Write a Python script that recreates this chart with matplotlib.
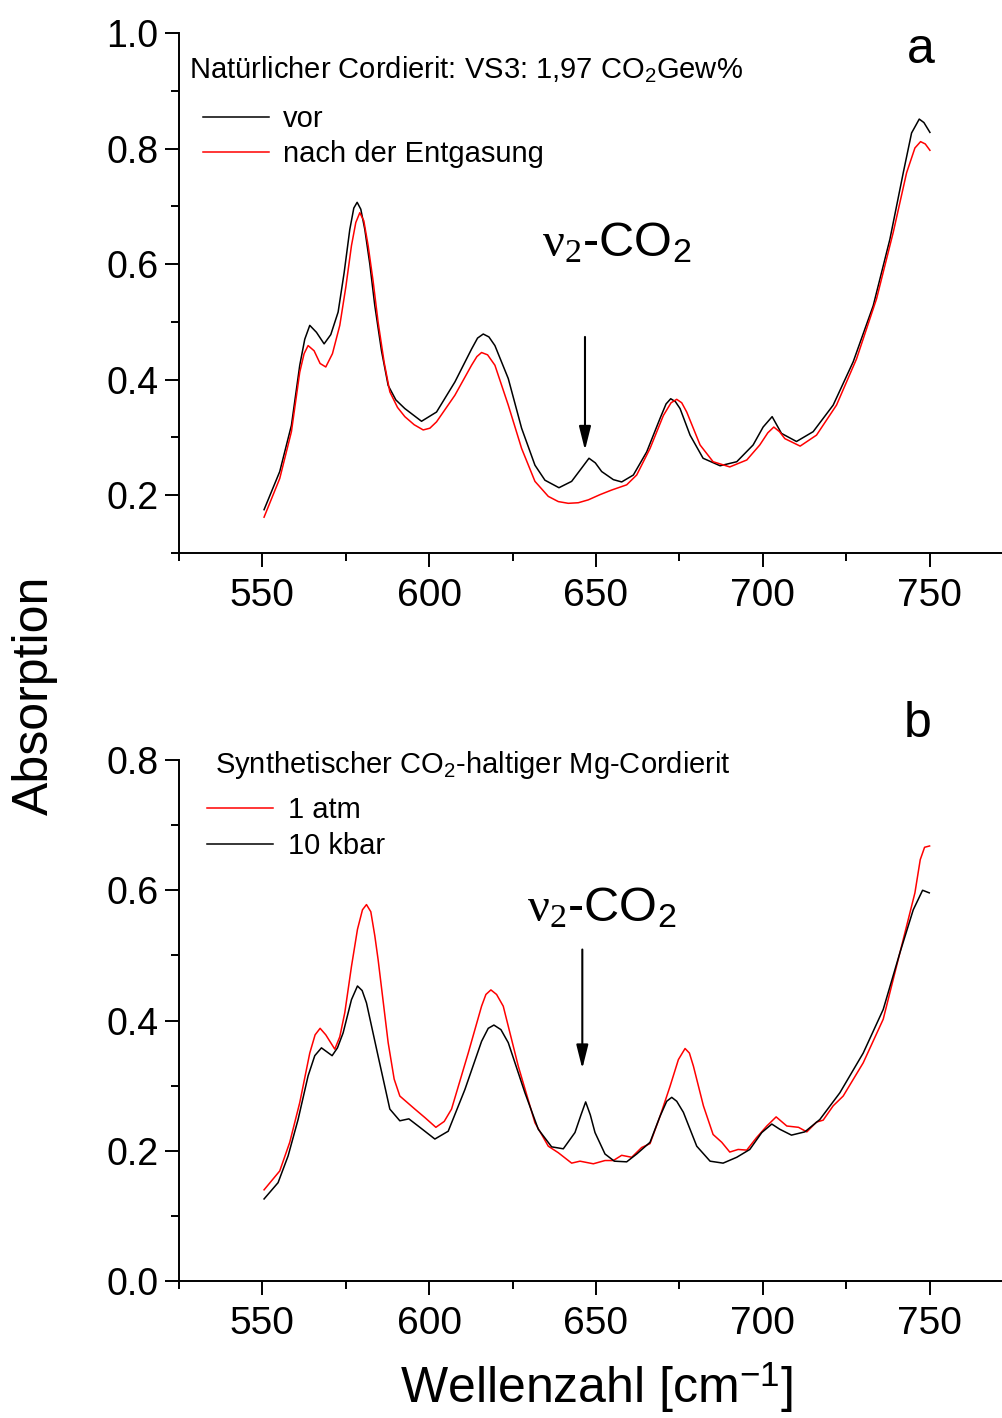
import numpy as np
import matplotlib
matplotlib.use('Agg')
import matplotlib.pyplot as plt
from matplotlib.ticker import MultipleLocator

plt.rcParams['font.family'] = ['Liberation Sans', 'DejaVu Sans']
plt.rcParams['mathtext.fontset'] = 'custom'
plt.rcParams['mathtext.rm'] = 'Liberation Serif'
plt.rcParams['mathtext.it'] = 'Liberation Serif:italic'
plt.rcParams['mathtext.sf'] = 'Liberation Sans'

# --- panel a: natural cordierite VS3 ---
wn_a_vor = [550.5, 555.2, 558.7, 561.2, 562.7, 564.2, 566.2, 568.5, 570.5, 572.7,
            574.5, 576.2, 577.4, 578.4, 579.5, 580.7, 582.2, 583.7, 585.7, 587.7,
            590.0, 592.7, 597.7, 602.2, 607.7, 612.7, 614.5, 616.2, 617.9, 619.7,
            623.7, 627.7, 631.7, 634.7, 638.9, 642.7, 645.7, 647.9, 649.8, 651.7,
            655.2, 657.7, 661.2, 665.2, 669.2, 671.0, 672.4, 673.8, 675.2, 678.2,
            682.1, 687.2, 692.2, 697.1, 700.1, 702.8, 705.6, 710.1, 715.1, 721.1,
            727.1, 733.1, 738.1, 742.1, 744.6, 746.9, 748.3, 750.1]
abs_a_vor = [0.175, 0.241, 0.321, 0.425, 0.470, 0.494, 0.482, 0.462, 0.478, 0.517,
             0.585, 0.660, 0.697, 0.707, 0.695, 0.660, 0.600, 0.528, 0.450, 0.390,
             0.365, 0.350, 0.328, 0.344, 0.396, 0.453, 0.472, 0.479, 0.474, 0.459,
             0.402, 0.316, 0.252, 0.226, 0.213, 0.224, 0.247, 0.264, 0.256, 0.241,
             0.227, 0.223, 0.235, 0.275, 0.333, 0.358, 0.367, 0.362, 0.350, 0.304,
             0.264, 0.251, 0.258, 0.287, 0.318, 0.336, 0.307, 0.293, 0.310, 0.356,
             0.431, 0.528, 0.643, 0.758, 0.827, 0.851, 0.845, 0.828]

wn_a_nach = [550.5, 555.2, 558.7, 561.2, 562.5, 563.7, 565.5, 567.3, 569.0, 571.0,
             573.2, 575.0, 576.7, 578.0, 579.2, 580.4, 581.7, 583.2, 584.7, 586.5,
             588.2, 590.5, 592.7, 595.5, 598.2, 600.2, 602.2, 607.7, 612.7, 614.3,
             615.7, 617.5, 619.7, 623.7, 627.7, 631.7, 635.7, 638.7, 641.7, 644.7,
             647.7, 651.2, 654.7, 659.2, 662.2, 666.2, 670.2, 672.5, 674.2, 675.7,
             677.2, 681.2, 685.1, 690.1, 695.2, 699.1, 701.5, 703.3, 705.0, 706.6,
             711.2, 716.1, 722.1, 728.1, 734.1, 739.1, 743.1, 745.6, 747.3, 748.7,
             750.1]
abs_a_nach = [0.162, 0.229, 0.310, 0.413, 0.445, 0.459, 0.450, 0.428, 0.422, 0.445,
              0.494, 0.560, 0.632, 0.672, 0.689, 0.675, 0.632, 0.570, 0.499, 0.430,
              0.379, 0.352, 0.336, 0.322, 0.313, 0.316, 0.327, 0.373, 0.425, 0.440,
              0.447, 0.443, 0.425, 0.356, 0.281, 0.224, 0.198, 0.189, 0.186, 0.187,
              0.192, 0.201, 0.209, 0.218, 0.235, 0.281, 0.338, 0.360, 0.366, 0.360,
              0.344, 0.287, 0.258, 0.249, 0.261, 0.287, 0.308, 0.318, 0.310, 0.298,
              0.285, 0.304, 0.356, 0.436, 0.540, 0.655, 0.758, 0.801, 0.812, 0.808,
              0.797]

# --- panel b: synthetic Mg-cordierite ---
wn_b_atm = [550.5, 555.2, 558.2, 561.2, 564.2, 565.8, 567.3, 569.0, 571.7, 573.2,
            574.7, 576.7, 578.5, 580.0, 581.2, 582.5, 583.7, 584.7, 587.7, 589.5,
            591.2, 595.7, 598.7, 602.0, 604.5, 606.7, 611.7, 615.7, 617.0, 618.5,
            620.2, 622.2, 626.7, 631.7, 635.7, 638.7, 642.7, 645.2, 649.2, 652.7,
            655.2, 657.7, 660.7, 663.7, 666.2, 669.2, 672.2, 674.7, 676.7, 678.0,
            679.2, 682.2, 685.1, 687.7, 690.1, 692.6, 695.2, 698.1, 701.2, 704.0,
            707.2, 710.7, 713.2, 716.1, 718.1, 721.1, 724.1, 730.1, 736.1, 741.1,
            745.6, 747.2, 748.5, 750.0]
abs_b_atm = [0.140, 0.169, 0.213, 0.274, 0.350, 0.378, 0.388, 0.378, 0.356, 0.375,
             0.412, 0.483, 0.540, 0.570, 0.578, 0.567, 0.530, 0.493, 0.366, 0.310,
             0.284, 0.264, 0.251, 0.236, 0.245, 0.264, 0.350, 0.422, 0.440, 0.447,
             0.440, 0.422, 0.330, 0.243, 0.207, 0.197, 0.181, 0.184, 0.180, 0.185,
             0.185, 0.193, 0.190, 0.205, 0.211, 0.253, 0.299, 0.340, 0.357, 0.350,
             0.330, 0.269, 0.225, 0.213, 0.198, 0.202, 0.201, 0.220, 0.238, 0.252,
             0.238, 0.236, 0.229, 0.244, 0.247, 0.269, 0.284, 0.335, 0.402, 0.504,
             0.596, 0.647, 0.666, 0.668]

wn_b_kbar = [550.5, 554.7, 557.7, 560.7, 563.7, 565.7, 567.7, 569.3, 570.9, 572.5,
             574.2, 576.7, 578.5, 579.9, 581.2, 584.7, 588.2, 591.2, 593.9, 597.2,
             601.7, 605.7, 610.7, 615.7, 617.7, 619.4, 621.5, 623.7, 628.7, 632.7,
             636.7, 640.2, 643.7, 645.5, 646.9, 648.3, 649.7, 652.7, 655.5, 659.2,
             662.2, 666.2, 669.2, 671.2, 672.7, 674.2, 676.2, 680.2, 684.2, 688.1,
             692.2, 696.1, 699.7, 702.7, 705.1, 708.6, 712.6, 717.1, 723.1, 730.1,
             736.1, 741.1, 745.1, 747.9, 749.9]
abs_b_kbar = [0.126, 0.151, 0.192, 0.248, 0.315, 0.346, 0.358, 0.352, 0.346, 0.358,
              0.381, 0.432, 0.453, 0.446, 0.427, 0.345, 0.264, 0.246, 0.249, 0.236,
              0.218, 0.230, 0.294, 0.368, 0.388, 0.393, 0.386, 0.366, 0.289, 0.233,
              0.206, 0.203, 0.228, 0.255, 0.275, 0.255, 0.228, 0.195, 0.184, 0.183,
              0.195, 0.213, 0.253, 0.276, 0.282, 0.276, 0.259, 0.207, 0.184, 0.181,
              0.190, 0.202, 0.228, 0.241, 0.233, 0.224, 0.229, 0.248, 0.289, 0.350,
              0.417, 0.504, 0.570, 0.600, 0.596]

label_a = r'Natürlicher Cordierit: VS3: 1,97 CO$_\mathsf{2}$Gew%'
label_b = r'Synthetischer CO$_\mathsf{2}$-haltiger Mg-Cordierit'
nu2 = r'$\mathrm{\nu_2}$-CO$_\mathsf{2}$'

fig = plt.figure(figsize=(10.03, 14.18), dpi=100)
ax1 = fig.add_axes([0.17846, 0.61001, 0.8315, 0.36671])
ax2 = fig.add_axes([0.17846, 0.09661, 0.8315, 0.36742])

ax1.plot(wn_a_vor, abs_a_vor, color='black', lw=1.1, label='vor')
ax1.plot(wn_a_nach, abs_a_nach, color='red', lw=1.1, label='nach der Entgasung')
ax2.plot(wn_b_atm, abs_b_atm, color='red', lw=1.1, label='1 atm')
ax2.plot(wn_b_kbar, abs_b_kbar, color='black', lw=1.1, label='10 kbar')

ax1.set_ylim(0.1, 1.0)
ax2.set_ylim(0.0, 0.8)

for ax in (ax1, ax2):
    ax.set_xlim(525, 775)
    ax.spines['top'].set_visible(False)
    ax.spines['right'].set_visible(False)
    ax.spines['left'].set_linewidth(1.4)
    ax.spines['bottom'].set_linewidth(1.4)
    ax.xaxis.set_major_locator(MultipleLocator(50))
    ax.xaxis.set_minor_locator(MultipleLocator(25))
    ax.yaxis.set_major_locator(MultipleLocator(0.2))
    ax.yaxis.set_minor_locator(MultipleLocator(0.1))
    ax.yaxis.set_major_formatter(plt.FormatStrFormatter('%.1f'))
    ax.tick_params(which='major', direction='out', length=10, width=1.4)
    ax.tick_params(which='minor', direction='out', length=5.5, width=1.4)
    ax.tick_params(axis='y', labelsize=27, pad=5)
    ax.tick_params(axis='x', labelsize=28, pad=8)
    ax.legend(loc='upper left', frameon=False, fontsize=21, borderpad=0,
              borderaxespad=0, handlelength=2.25, handletextpad=0.5,
              labelspacing=0.25,
              bbox_to_anchor=(0.029, 0.862) if ax is ax1 else (0.034, 0.93))

ax1.text(0.012, 0.929, label_a, transform=ax1.transAxes, fontsize=21, va='center')
ax2.text(0.043, 0.99, label_b, transform=ax2.transAxes, fontsize=21, va='center')

ax1.text(0.889, 0.968, 'a', transform=ax1.transAxes, fontsize=36, ha='center', va='center')
ax2.text(0.886, 1.07, 'b', transform=ax2.transAxes, fontsize=36, ha='center', va='center')

ax1.text(633.8, 0.614, nu2, fontsize=35, ha='left', va='baseline')
ax2.text(629.3, 0.552, nu2, fontsize=35, ha='left', va='baseline')

arrow = dict(arrowstyle='-|>,head_length=0.6,head_width=0.15', color='black',
             lw=1.5, mutation_scale=24, shrinkA=0, shrinkB=0)
ax1.annotate('', xy=(646.7, 0.278), xytext=(646.7, 0.474), arrowprops=arrow)
ax2.annotate('', xy=(645.9, 0.326), xytext=(645.9, 0.509), arrowprops=arrow)

fig.text(35 / 1003, 1 - 695 / 1418, 'Absorption', rotation=90, fontsize=36,
         ha='center', va='center')
fig.text(596 / 1003, 1 - 1388 / 1418, r'Wellenzahl [cm$^\mathsf{-1}$]', fontsize=36,
         ha='center', va='center')

fig.savefig('out.png', dpi=100)
